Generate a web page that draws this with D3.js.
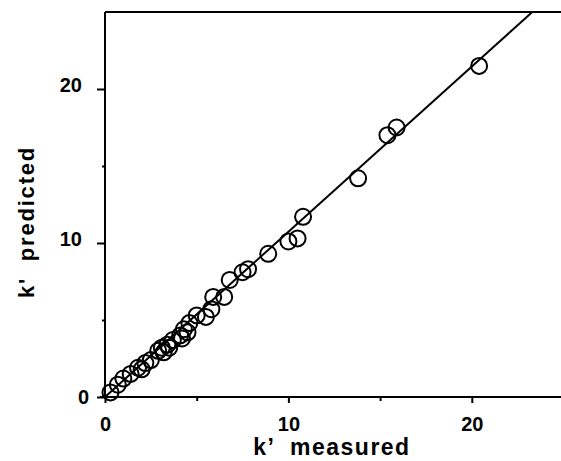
<!DOCTYPE html>
<html>
<head>
<meta charset="utf-8">
<script src="https://cdn.jsdelivr.net/npm/d3@7"></script>
<style>
body { margin: 0; background: #fff; }
text { font-family: "Liberation Sans", Arial, sans-serif; font-weight: bold; fill: #000; }
</style>
</head>
<body>
<div id="chart"></div>
<script>
// measured vs predicted k'
var measured  = [0.3, 0.7, 1.0, 1.4, 1.8, 2.0, 2.2, 2.5, 2.9, 3.1, 3.2, 3.4, 3.5, 3.7, 4.1, 4.2, 4.3, 4.5, 4.6, 5.0, 5.5, 5.8, 5.9, 6.5, 6.8, 7.5, 7.8, 8.9, 10.0, 10.5, 10.8, 13.8, 15.4, 15.9, 20.4];
var predicted = [0.3, 0.8, 1.2, 1.5, 1.9, 1.8, 2.2, 2.4, 3.0, 3.2, 2.9, 3.4, 3.2, 3.7, 4.0, 3.8, 4.4, 4.2, 4.8, 5.3, 5.2, 5.7, 6.5, 6.5, 7.6, 8.1, 8.3, 9.3, 10.1, 10.3, 11.7, 14.2, 17.0, 17.5, 21.5];
var majorTicks = [0, 10, 20];
var minorTicks = [5, 15];
var fit = {slope: 1.073, intercept: 0};

var W = 561, H = 461;
var svg = d3.select("#chart").append("svg").attr("width", W).attr("height", H);

var x = d3.scaleLinear().domain([0, 25]).range([105, 563.5]);
var y = d3.scaleLinear().domain([0, 25]).range([397, 12]);

// frame: top line, left and bottom axis lines
svg.append("line").attr("x1", 105).attr("x2", W).attr("y1", y(25)).attr("y2", y(25))
  .style("stroke", "#000").style("stroke-width", 2);
svg.append("line").attr("x1", 105).attr("x2", 105).attr("y1", y(25)).attr("y2", 399)
  .style("stroke", "#000").style("stroke-width", 2);
svg.append("line").attr("x1", 100).attr("x2", W).attr("y1", 397).attr("y2", 397)
  .style("stroke", "#000").style("stroke-width", 2);

// x axis ticks
var xAxis = svg.append("g").attr("transform", "translate(0,397)")
  .call(d3.axisBottom(x).tickValues(majorTicks).tickSize(6).tickPadding(14).tickFormat(d3.format("d")));
xAxis.select(".domain").remove();
xAxis.selectAll("line").style("stroke-width", 2);
xAxis.selectAll("text").style("font-size", "20px").style("font-family", null);

var xMinor = svg.append("g").attr("transform", "translate(0,397)")
  .call(d3.axisBottom(x).tickValues(minorTicks).tickSize(4).tickFormat(""));
xMinor.select(".domain").remove();
xMinor.selectAll("line").style("stroke-width", 2);

// y axis ticks
var yAxis = svg.append("g").attr("transform", "translate(105,0)")
  .call(d3.axisLeft(y).tickValues(majorTicks).tickSize(8).tickPadding(15).tickFormat(d3.format("d")));
yAxis.select(".domain").remove();
yAxis.selectAll("line").style("stroke-width", 2);
yAxis.selectAll("text").style("font-size", "20px").style("font-family", null)
  .attr("dx", function(d) { return d === 0 ? 7 : 0; })
  .attr("dy", function(d) { return d === 0 ? "0.32em" : "0.1em"; });

var yMinor = svg.append("g").attr("transform", "translate(105,0)")
  .call(d3.axisLeft(y).tickValues(minorTicks).tickSize(3).tickFormat(""));
yMinor.select(".domain").remove();
yMinor.selectAll("line").style("stroke-width", 2);

// regression line, clipped at top of the frame
var xEnd = (25 - fit.intercept) / fit.slope;
svg.append("line")
  .attr("x1", x(0)).attr("y1", y(fit.intercept))
  .attr("x2", x(xEnd)).attr("y2", y(25))
  .style("stroke", "#000").style("stroke-width", 2);

// points
var pts = measured.map(function(d, i) { return [d, predicted[i]]; });
svg.selectAll("circle.pt").data(pts).enter().append("circle")
  .attr("class", "pt")
  .attr("cx", function(d) { return x(d[0]); })
  .attr("cy", function(d) { return y(d[1]); })
  .attr("r", 8)
  .style("fill", "none").style("stroke", "#000").style("stroke-width", 2);

// axis titles
svg.append("text").attr("x", 332).attr("y", 455).attr("text-anchor", "middle")
  .style("font-size", "23px").style("letter-spacing", "1.5px").style("white-space", "pre")
  .text("k\u2019  measured");
svg.append("text").attr("transform", "translate(34,222) rotate(-90)").attr("text-anchor", "middle")
  .style("font-size", "22px").style("letter-spacing", "1.8px").style("white-space", "pre")
  .text("k'  predicted");
</script>
</body>
</html>
